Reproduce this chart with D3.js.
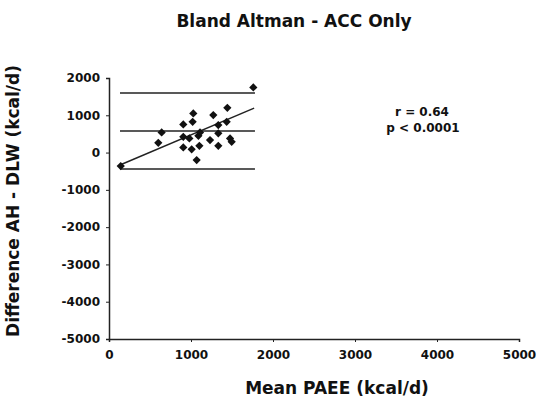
<!DOCTYPE html>
<html lang="en">
<head>
  <meta charset="UTF-8">
  <title>Bland Altman - ACC Only</title>
  <script src="https://cdn.jsdelivr.net/npm/d3@7/dist/d3.min.js"></script>
  <style>
    body { margin: 0; background: #fff; }
    text { font-family: "DejaVu Sans", Arial, sans-serif; font-weight: bold; fill: #111; }
  </style>
</head>
<body>
  <script>
    // mean PAEE vs difference (kcal/d)
    const meanX = [143, 601, 642, 906, 906, 906, 980, 1008, 1020, 1028, 1069, 1090, 1102, 1110,
                   1232, 1272, 1333, 1333, 1333, 1443, 1435, 1476, 1496, 1760]
    const diffY = [-362, 263, 541, 756, 424, 139, 380, 86, 826, 1051, -201, 450, 182, 541,
                   335, 1005, 737, 515, 182, 1201, 826, 380, 290, 1748]

    // bias and limits of agreement
    const limitVals = [1595, 576, -442]
    const limitRange = [134, 1780]

    // regression line
    const fitX = [134, 1770]
    const fitY = [-335, 1193]

    const xTicks = [0, 1000, 2000, 3000, 4000, 5000]
    const yTicks = [2000, 1000, 0, -1000, -2000, -3000, -4000, -5000]

    const width = 539, height = 404
    const svg = d3.select('body').append('svg')
      .attr('width', width)
      .attr('height', height)

    const x = d3.scaleLinear().domain([0, 5000]).range([109, 519])
    const y = d3.scaleLinear().domain([-5000, 2000]).range([339, 78])

    const fmt = d => String(d)   // plain hyphen minus, as in the original

    // 坐标轴
    const xAxis = d3.axisBottom(x).tickValues(xTicks).tickFormat(fmt)
      .tickSize(3).tickPadding(8)
    svg.append('g')
      .attr('transform', `translate(0,${y(-5000)})`)
      .call(xAxis)
      .call(g => g.select('.domain').attr('stroke', '#222').attr('stroke-width', 1.5))
      .call(g => g.selectAll('.tick line').attr('stroke', '#222'))
      .call(g => g.selectAll('.tick text').style('font-size', '12px').attr('fill', '#111'))

    const yAxis = d3.axisLeft(y).tickValues(yTicks).tickFormat(fmt)
      .tickSize(3).tickPadding(6)
    svg.append('g')
      .attr('transform', `translate(${x(0)},0)`)
      .call(yAxis)
      .call(g => g.select('.domain').attr('stroke', '#222').attr('stroke-width', 1.5))
      .call(g => g.selectAll('.tick line').attr('stroke', '#222'))
      .call(g => g.selectAll('.tick text').style('font-size', '12px').attr('fill', '#111'))

    // 水平线
    svg.selectAll('.limit')
      .data(limitVals)
      .enter().append('line')
      .attr('class', 'limit')
      .attr('x1', x(limitRange[0]))
      .attr('x2', x(limitRange[1]))
      .attr('y1', d => y(d))
      .attr('y2', d => y(d))
      .attr('stroke', '#222')
      .attr('stroke-width', 1.5)

    // 回归线
    svg.append('line')
      .attr('x1', x(fitX[0])).attr('y1', y(fitY[0]))
      .attr('x2', x(fitX[1])).attr('y2', y(fitY[1]))
      .attr('stroke', '#222')
      .attr('stroke-width', 1.5)

    // 数据点
    svg.selectAll('.pt')
      .data(meanX)
      .enter().append('path')
      .attr('class', 'pt')
      .attr('d', d3.symbol().type(d3.symbolSquare).size(34))
      .attr('transform', (d, i) => `translate(${x(d)},${y(diffY[i])}) rotate(45)`)
      .attr('fill', '#111')

    // 标题与标签
    svg.append('text')
      .attr('x', 294).attr('y', 27)
      .attr('text-anchor', 'middle')
      .style('font-size', '17px')
      .text('Bland Altman - ACC Only')

    svg.append('text')
      .attr('x', 337).attr('y', 394)
      .attr('text-anchor', 'middle')
      .style('font-size', '17px')
      .text('Mean PAEE (kcal/d)')

    svg.append('text')
      .attr('transform', 'translate(19,201) rotate(-90)')
      .attr('text-anchor', 'middle')
      .style('font-size', '17px')
      .text('Difference AH - DLW (kcal/d)')

    svg.append('text')
      .attr('x', 422).attr('y', 116)
      .attr('text-anchor', 'middle')
      .style('font-size', '12px')
      .text('r = 0.64')

    svg.append('text')
      .attr('x', 423).attr('y', 132)
      .attr('text-anchor', 'middle')
      .style('font-size', '12px')
      .text('p < 0.0001')
  </script>
</body>
</html>
